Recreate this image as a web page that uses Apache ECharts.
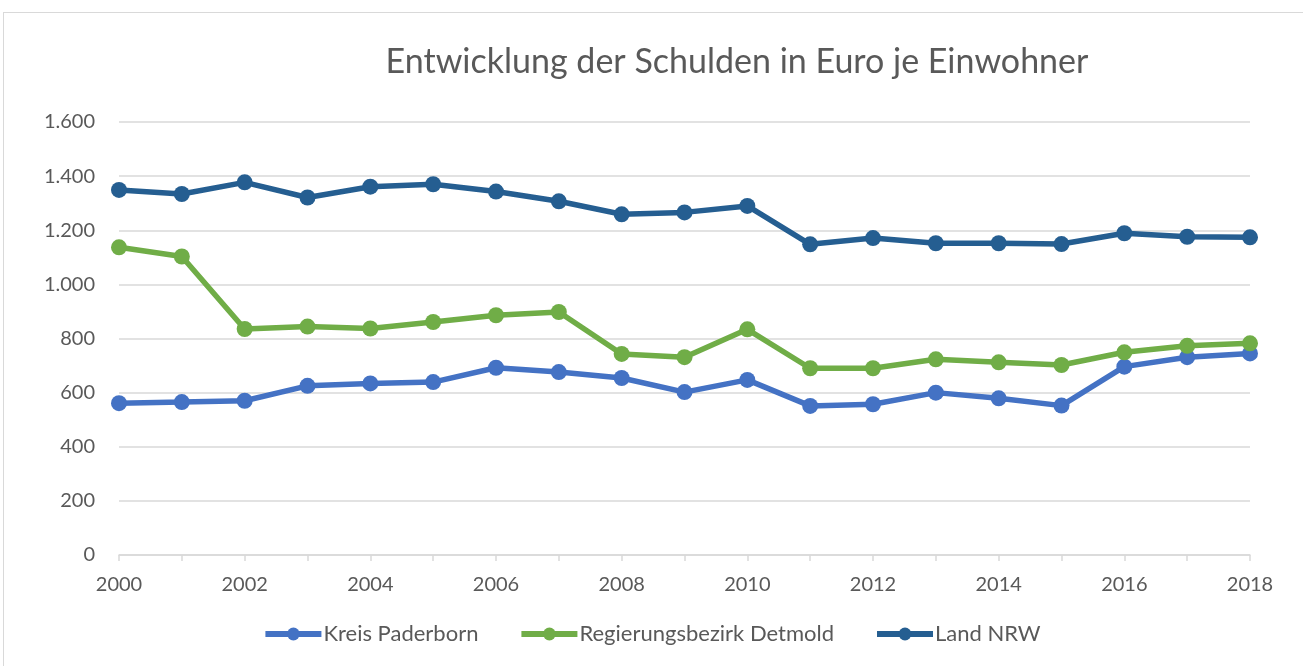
<!DOCTYPE html>
<html>
<head>
<meta charset="utf-8">
<script src="https://cdn.jsdelivr.net/npm/echarts@6/dist/echarts.min.js"></script>
<style>
html,body{margin:0;padding:0;background:#fff;}
#frame{position:absolute;left:3px;top:12px;width:1320px;height:680px;border:1px solid #d9d9d9;box-sizing:border-box;}
#chart{position:absolute;left:0;top:0;width:1303px;height:666px;}
</style>
</head>
<body>
<div id="frame"></div>
<div id="chart"></div>
<script>
const years = ['2000','2001','2002','2003','2004','2005','2006','2007','2008','2009','2010','2011','2012','2013','2014','2015','2016','2017','2018'];
const kreisPaderborn = [561,565,570,625,634,639,692,676,654,602,647,551,557,600,579,552,696,731,745];
const regbezDetmold = [1137,1103,835,844,837,861,886,898,743,731,834,690,690,723,712,702,749,773,782];
const landNRW = [1349,1334,1377,1321,1361,1370,1343,1307,1259,1266,1290,1148,1171,1152,1152,1149,1189,1176,1174];
const seriesNames = ['Kreis Paderborn','Regierungsbezirk Detmold','Land NRW'];
const colors = ['#4472C4','#70AD47','#255E91'];
const titleText = 'Entwicklung der Schulden in Euro je Einwohner';

const font = 'Lato, "Open Sans", sans-serif';
const chart = echarts.init(document.getElementById('chart'));
function mk(name, data, color){
  return {
    name, type:'line', data,
    symbol:'circle', symbolSize:16,
    lineStyle:{width:5.5,color},
    itemStyle:{color},
    emphasis:{disabled:true}
  };
}
chart.setOption({
  animation:false,
  color:colors,
  title:{
    text:titleText, left:732, top:40, textAlign:'center',
    textStyle:{fontFamily:font,fontSize:34,fontWeight:'normal',color:'#595959'}
  },
  grid:{left:119,right:53,top:122,bottom:111},
  legend:{
    bottom:16, left:'center',
    itemWidth:56, itemHeight:16, itemGap:40,
    lineStyle:{width:6},
    textStyle:{fontFamily:font,fontSize:22,color:'#595959',padding:[0,0,0,-3]},
    data:seriesNames
  },
  xAxis:{
    type:'category', data:years, boundaryGap:false,
    axisLine:{lineStyle:{color:'#d9d9d9',width:1.5}},
    axisTick:{show:true,interval:0,length:6,lineStyle:{color:'#d9d9d9',width:1.5}},
    axisLabel:{interval:1,margin:20,fontFamily:font,fontSize:20,color:'#595959'},
    splitLine:{show:false}
  },
  yAxis:{
    type:'value', min:0, max:1600, interval:200,
    axisLine:{show:false}, axisTick:{show:false},
    axisLabel:{margin:24,fontFamily:font,fontSize:20,color:'#595959',
      formatter:v=>String(v).replace(/\B(?=(\d{3})+(?!\d))/g,'.')},
    splitLine:{lineStyle:{color:'#d9d9d9',width:1.5}}
  },
  series:[
    mk(seriesNames[0], kreisPaderborn, colors[0]),
    mk(seriesNames[1], regbezDetmold, colors[1]),
    mk(seriesNames[2], landNRW, colors[2])
  ]
});
</script>
</body>
</html>
